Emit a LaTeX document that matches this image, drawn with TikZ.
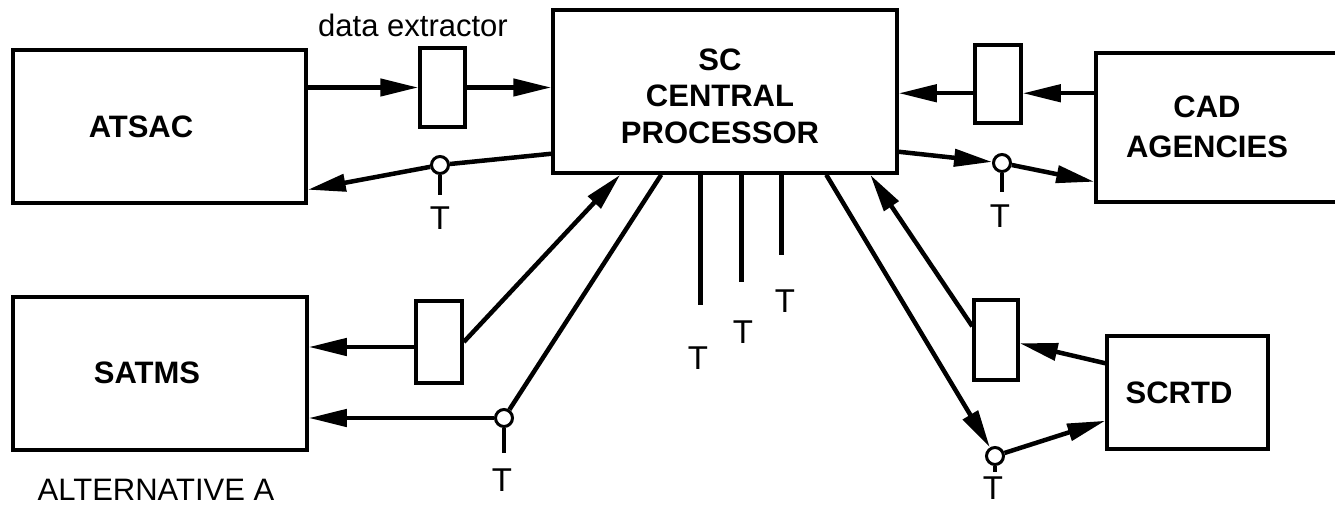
\documentclass[tikz,border=0pt]{standalone}
\usepackage{fontspec}
\setmainfont{Liberation Sans}
\usetikzlibrary{arrows.meta,calc}
\begin{document}
\begin{tikzpicture}[x=1pt,y=-1pt,
  box/.style={draw,line width=3.5pt,inner sep=0pt},
  lbl/.style={font=\fontsize{31}{36.5}\selectfont\bfseries,align=center,inner sep=0pt},
  small/.style={font=\fontsize{31}{36}\selectfont,inner sep=0pt},
  tl/.style={font=\fontsize{33}{36}\selectfont,inner sep=0pt},
  tap/.style={circle,draw,line width=3pt,fill=white,minimum size=17pt,inner sep=0pt},
  wire/.style={line width=4.5pt},
  conn/.style={wire,-{Triangle[length=38pt,width=17pt]}},
  stem/.style={line width=3.5pt}]
\useasboundingbox (0,0) rectangle (1335,508);

% boxes
\node[box,minimum width=293pt,minimum height=153pt] (ATSAC) at (159.5,126.5) {};
\node[lbl] (tATSAC) at (141,127) {ATSAC};
\node[box,minimum width=45pt,minimum height=79pt] (ext1) at (442.5,87.5) {};
\node[small] (tdata) at (413,25) {data extractor};
\node[box,minimum width=344pt,minimum height=163pt] (SCCP) at (725,91.5) {};
\node[lbl] (tSCCP) at (720,96) {SC\\CENTRAL\\PROCESSOR};
\node[box,minimum width=46pt,minimum height=78pt] (ext2) at (998,84) {};
\node[box,minimum width=250pt,minimum height=149pt] (CAD) at (1221,127.5) {};
\node[lbl,font=\fontsize{31}{40}\selectfont\bfseries] (tCAD) at (1207,127) {CAD\\AGENCIES};
\node[box,minimum width=294pt,minimum height=153pt] (SATMS) at (160,373.5) {};
\node[lbl] (tSATMS) at (147,372.5) {SATMS};
\node[box,minimum width=46pt,minimum height=82pt] (ext3) at (439,342) {};
\node[box,minimum width=44pt,minimum height=80pt] (ext4) at (996,340) {};
\node[box,minimum width=161pt,minimum height=113pt] (SCRTD) at (1187.5,392.5) {};
\node[lbl] (tSCRTD) at (1179,393) {SCRTD};
\node[small] (talt) at (156,490) {ALTERNATIVE A};

% taps
\node[tap] (c1) at (440,165) {};
\node[tap] (c2) at (1002,163) {};
\node[tap] (c3) at (504,418) {};
\node[tap] (c4) at (995,456) {};

% tap stems and T labels
\coordinate (s1) at (440,195);
\coordinate (s2) at (1002,192);
\coordinate (s3) at (504,453);
\coordinate (s4) at (995,472);
\draw[stem] (c1.south) -- (s1);
\draw[stem] (c2.south) -- (s2);
\draw[stem] (c3.south) -- (s3);
\draw[stem] (c4.south) -- (s4);
\node[tl] (T1) at (440,218) {T};
\node[tl] (T2) at (1000,216) {T};
\node[tl] (T3) at (502,480) {T};
\node[tl] (T4) at (993,488) {T};

% ATSAC connections
\draw[conn] (ATSAC.east |- ext1.west) -- (ext1.west);
\draw[conn] (ext1.east) -- (ext1.east -| SCCP.west);
\coordinate (a1) at ($(SCCP.south west)+(0,-21)$);
\coordinate (a2) at ($(ATSAC.south east)+(0,-15)$);
\draw[wire] (a1) -- (c1);
\draw[conn] (c1) -- (a2);

% CAD connections
\coordinate (b0) at ($(CAD.north west)+(0,42)$);
\draw[conn] (b0) -- (b0 -| ext2.east);
\draw[conn] (b0 -| ext2.west) -- (b0 -| SCCP.east);
\coordinate (b1) at ($(SCCP.south east)+(0,-23)$);
\coordinate (b2) at ($(CAD.south west)+(0,-22)$);
\draw[conn] (b1) -- (c2);
\draw[conn] (c2) -- (b2);

% SATMS connections
\coordinate (d0) at ($(ext3.west)+(0,5)$);
\draw[conn] (d0) -- (d0 -| SATMS.east);
\draw[conn] (c3) -- (c3 -| SATMS.east);
\coordinate (d1) at ($(SCCP.south west)+(69,0)$);
\coordinate (d2) at ($(SCCP.south west)+(110,0)$);
\draw[conn] (ext3.east) -- (d1);
\draw[wire] (c3) -- (d2);

% terminal lines
\coordinate (v1) at ($(SCCP.south west)+(149,0)$);
\coordinate (v2) at ($(SCCP.south west)+(190,0)$);
\coordinate (v3) at ($(SCCP.south west)+(230,0)$);
\coordinate (v1e) at ($(v1)+(0,130)$);
\coordinate (v2e) at ($(v2)+(0,107)$);
\coordinate (v3e) at ($(v3)+(0,80)$);
\draw[wire] (v1) -- (v1e);
\draw[wire] (v2) -- (v2e);
\draw[wire] (v3) -- (v3e);
\node[tl] (T5) at (698,358) {T};
\node[tl] (T6) at (743,332) {T};
\node[tl] (T7) at (785,301) {T};

% SCRTD connections
\coordinate (e1) at ($(SCCP.south west)+(275,0)$);
\coordinate (e2) at ($(SCCP.south west)+(319,0)$);
\coordinate (e3) at ($(ext4.north west)+(0,28)$);
\draw[conn] (e1) -- (c4);
\draw[conn] (e3) -- (e2);
\coordinate (f1) at ($(SCRTD.north west)+(0,29)$);
\coordinate (f2) at ($(ext4.north east)+(0,45)$);
\draw[conn] (f1) -- (f2);
\coordinate (f3) at ($(SCRTD.south west)+(0,-30)$);
\draw[conn] (c4) -- (f3);
\end{tikzpicture}
\end{document}
